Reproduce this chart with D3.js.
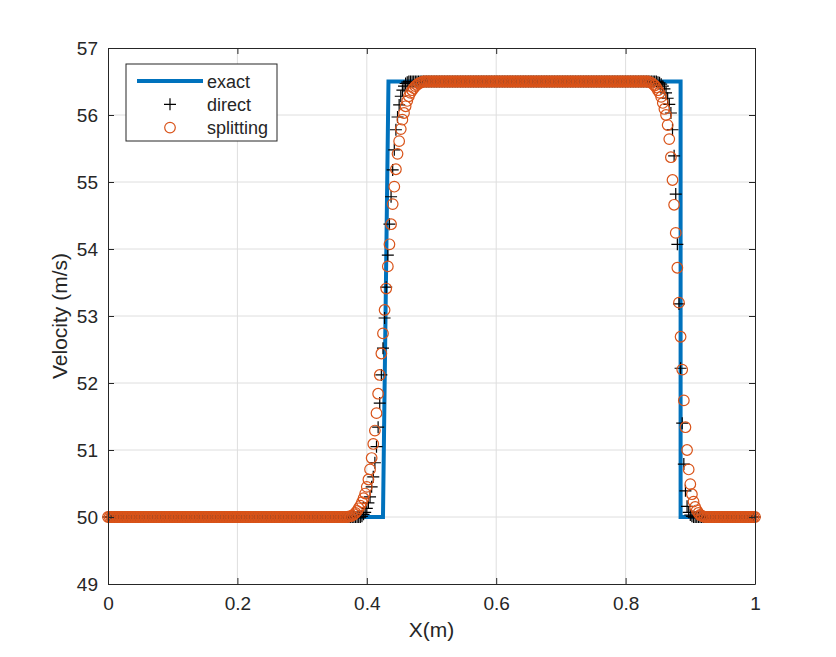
<!DOCTYPE html>
<html>
<head>
<meta charset="utf-8">
<script src="https://cdn.jsdelivr.net/npm/d3@7"></script>
<style>
  body { margin: 0; background: #fff; }
  svg { display: block; }
  text { font-family: "Liberation Sans", Arial, Helvetica, sans-serif; fill: #262626; }
</style>
</head>
<body>
<script>
// solver grid: 401 nodes on [0, 1]
const gridStart = 0, gridStep = 0.0025, gridCount = 401;
const lowLevel = 50, highLevel = 56.5;

// exact solution (square pulse)
const exactX = [0, 0.425, 0.4335, 0.885, 0.885, 1];
const exactY = [50, 50, 56.5, 56.5, 50, 50];

// direct scheme: values inside the two fronts, plateaus elsewhere
const directRiseFrom = 157;
const directRise = [50.01, 50.04, 50.07, 50.13, 50.21, 50.30, 50.45, 50.60, 50.81, 51.05,
  51.34, 51.70, 52.12, 52.52, 52.97, 53.43, 53.91, 54.37, 54.78, 55.18,
  55.48, 55.78, 55.97, 56.15, 56.28, 56.37, 56.43, 56.47, 56.49];
const directFallFrom = 340;
const directFall = [56.49, 56.48, 56.46, 56.43, 56.39, 56.33, 56.25, 56.16, 56.03, 55.78,
  55.39, 54.82, 54.07, 53.18, 52.22, 51.40, 50.79, 50.39, 50.16, 50.07,
  50.03, 50.01];

// splitting scheme
const splitRiseFrom = 149;
const splitRise = [50.01, 50.01, 50.02, 50.04, 50.06, 50.09, 50.13, 50.17, 50.22, 50.28,
  50.35, 50.45, 50.56, 50.71, 50.88, 51.09, 51.29, 51.55, 51.84, 52.12,
  52.44, 52.74, 53.09, 53.41, 53.74, 54.07, 54.37, 54.67, 54.93, 55.19,
  55.42, 55.61, 55.79, 55.93, 56.03, 56.13, 56.21, 56.28, 56.33, 56.37,
  56.40, 56.43, 56.45, 56.47, 56.48, 56.49];
const splitFallFrom = 335;
const splitFall = [56.49, 56.48, 56.46, 56.44, 56.41, 56.37, 56.33, 56.27, 56.18, 56.09,
  56.00, 55.85, 55.64, 55.37, 55.03, 54.66, 54.24, 53.72, 53.20, 52.69,
  52.20, 51.74, 51.34, 51.00, 50.71, 50.49, 50.34, 50.23, 50.15, 50.10,
  50.06, 50.03, 50.02, 50.01];

const xTicks = [0, 0.2, 0.4, 0.6, 0.8, 1];
const yTicks = [49, 50, 51, 52, 53, 54, 55, 56, 57];
const legendLabels = ["exact", "direct", "splitting"];

// build a series on the grid: plateau values outside the listed fronts
function buildSeries(riseFrom, rise, fallFrom, fall) {
  const pts = [];
  for (let i = 0; i < gridCount; i++) {
    let v;
    if (i < riseFrom) v = lowLevel;
    else if (i < riseFrom + rise.length) v = rise[i - riseFrom];
    else if (i < fallFrom) v = highLevel;
    else if (i < fallFrom + fall.length) v = fall[i - fallFrom];
    else v = lowLevel;
    pts.push([gridStart + i * gridStep, v]);
  }
  return pts;
}
const direct = buildSeries(directRiseFrom, directRise, directFallFrom, directFall);
const splitting = buildSeries(splitRiseFrom, splitRise, splitFallFrom, splitFall);

const width = 836, height = 657;
const mLeft = 108, mRight = 755, mTop = 48, mBottom = 584;

const x = d3.scaleLinear().domain([0, 1]).range([mLeft, mRight]);
const y = d3.scaleLinear().domain([49, 57]).range([mBottom, mTop]);

const svg = d3.select("body").append("svg")
  .attr("width", width)
  .attr("height", height);

svg.append("rect").attr("width", width).attr("height", height).attr("fill", "#fff");

// grid
const grid = svg.append("g").attr("stroke", "#dedede").attr("stroke-width", 1);
grid.selectAll(".gx").data(xTicks.slice(1, -1)).enter().append("line")
  .attr("x1", d => x(d)).attr("x2", d => x(d))
  .attr("y1", mTop).attr("y2", mBottom);
grid.selectAll(".gy").data(yTicks.slice(1, -1)).enter().append("line")
  .attr("x1", mLeft).attr("x2", mRight)
  .attr("y1", d => y(d)).attr("y2", d => y(d));

// exact
svg.append("path")
  .datum(exactX.map((d, i) => [d, exactY[i]]))
  .attr("fill", "none")
  .attr("stroke", "#0072BD")
  .attr("stroke-width", 4)
  .attr("d", d3.line().x(d => x(d[0])).y(d => y(d[1])));

// direct (+)
svg.append("g").selectAll("path")
  .data(direct).enter().append("path")
  .attr("transform", d => `translate(${x(d[0])},${y(d[1])})`)
  .attr("d", "M-6,0H6M0,-6V6")
  .attr("stroke", "#000")
  .attr("stroke-width", 1.2)
  .attr("fill", "none");

// splitting (o)
svg.append("g").selectAll("circle")
  .data(splitting).enter().append("circle")
  .attr("cx", d => x(d[0]))
  .attr("cy", d => y(d[1]))
  .attr("r", 5.3)
  .attr("fill", "none")
  .attr("stroke", "#D95319")
  .attr("stroke-width", 1.2);

// axes
const axB = svg.append("g").attr("transform", `translate(0,${mBottom})`)
  .call(d3.axisBottom(x).tickValues(xTicks).tickFormat(d3.format("")).tickSizeInner(-6).tickSizeOuter(0).tickPadding(13));
const axL = svg.append("g").attr("transform", `translate(${mLeft},0)`)
  .call(d3.axisLeft(y).tickValues(yTicks).tickSizeInner(-6).tickSizeOuter(0).tickPadding(10));
const axT = svg.append("g").attr("transform", `translate(0,${mTop})`)
  .call(d3.axisTop(x).tickValues(xTicks).tickFormat("").tickSizeInner(-6).tickSizeOuter(0));
const axR = svg.append("g").attr("transform", `translate(${mRight},0)`)
  .call(d3.axisRight(y).tickValues(yTicks).tickFormat("").tickSizeInner(-6).tickSizeOuter(0));

[axB, axL, axT, axR].forEach(g => {
  g.select(".domain").attr("stroke", "#262626");
  g.selectAll(".tick line").attr("stroke", "#262626");
  g.selectAll("text").attr("font-size", 19).attr("fill", "#262626")
    .attr("font-family", "'Liberation Sans', Arial, sans-serif");
});

// axis labels
svg.append("text")
  .attr("x", (mLeft + mRight) / 2).attr("y", 637)
  .attr("text-anchor", "middle")
  .attr("font-size", 21)
  .text("X(m)");
svg.append("text")
  .attr("transform", `translate(67,${(mTop + mBottom) / 2}) rotate(-90)`)
  .attr("text-anchor", "middle")
  .attr("font-size", 21)
  .text("Velocity (m/s)");

// legend
const legend = svg.append("g");
legend.append("rect")
  .attr("x", 126).attr("y", 64).attr("width", 151).attr("height", 77)
  .attr("fill", "#fff").attr("stroke", "#262626").attr("stroke-width", 1);
const rowY = [81, 104.3, 127.6];
legend.append("line")
  .attr("x1", 137).attr("x2", 203).attr("y1", rowY[0]).attr("y2", rowY[0])
  .attr("stroke", "#0072BD").attr("stroke-width", 4);
legend.append("path")
  .attr("transform", `translate(170,${rowY[1]})`)
  .attr("d", "M-6,0H6M0,-6V6")
  .attr("stroke", "#000").attr("stroke-width", 1.2);
legend.append("circle")
  .attr("cx", 170).attr("cy", rowY[2]).attr("r", 5.3)
  .attr("fill", "none").attr("stroke", "#D95319").attr("stroke-width", 1.2);
legend.selectAll(".lbl").data(legendLabels).enter().append("text")
  .attr("x", 207)
  .attr("y", (d, i) => rowY[i] + 6.5)
  .attr("font-size", 18)
  .text(d => d);
</script>
</body>
</html>
